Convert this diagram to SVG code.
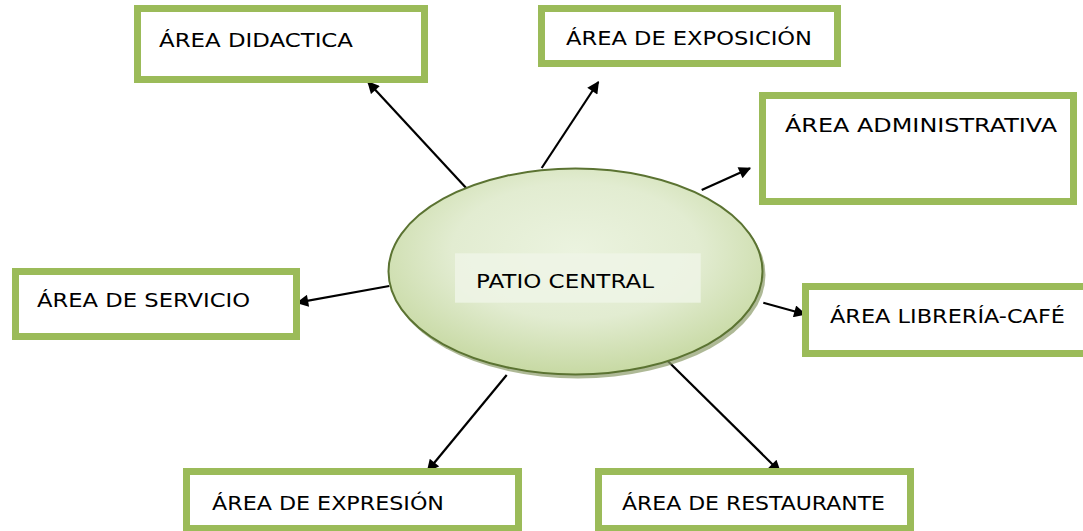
<svg xmlns="http://www.w3.org/2000/svg" width="1083" height="531" viewBox="0 0 1083 531">
<style>
.box{fill:#fff;stroke:#9bbb59;stroke-width:7}
.lbl{font-family:"DejaVu Sans","Liberation Sans",sans-serif;font-size:20px;fill:#000}
.con{stroke:#000;stroke-width:2.2;fill:none;marker-end:url(#ah)}
</style>
<defs>
<marker id="ah" viewBox="0 0 10 10" refX="9" refY="5" markerWidth="6" markerHeight="5.5" orient="auto" markerUnits="strokeWidth">
<path d="M0,0 L10,5 L0,10 z" fill="#000"/>
</marker>
<radialGradient id="eg" cx="0.5" cy="0.4" r="0.6">
<stop offset="0" stop-color="#ebf3df"/>
<stop offset="0.55" stop-color="#e2ecd1"/>
<stop offset="1" stop-color="#c7d9a3"/>
</radialGradient>
</defs>
<rect width="1083" height="531" fill="#fff"/>
<g id="connectors">
<line class="con" x1="468" y1="190" x2="368" y2="82"/>
<line class="con" x1="541.7" y1="168" x2="598.3" y2="82"/>
<line class="con" x1="701.7" y1="190" x2="750" y2="168.3"/>
<line class="con" x1="389.3" y1="286" x2="297.3" y2="302.7"/>
<line class="con" x1="763.3" y1="302.7" x2="805" y2="314.3"/>
<line class="con" x1="661.7" y1="355" x2="780" y2="471.7"/>
<line class="con" x1="506.7" y1="375" x2="427.5" y2="471"/>
</g>
<g id="patio-central">
<ellipse cx="578" cy="275" rx="187.5" ry="103.5" fill="#8c9b6a" opacity="0.7"/>
<ellipse cx="575.5" cy="271.5" rx="187" ry="103" fill="url(#eg)" stroke="#5b7332" stroke-width="2"/>
<rect x="455" y="253.3" width="245.7" height="49.4" fill="#eef4e6" opacity="0.85"/>
<text class="lbl" x="476" y="288.3" textLength="178" lengthAdjust="spacingAndGlyphs">PATIO CENTRAL</text>
</g>
<g id="area-didactica">
<rect class="box" x="137.5" y="8.5" width="287" height="71"/>
<text class="lbl" x="159" y="47" textLength="194" lengthAdjust="spacingAndGlyphs">ÁREA DIDACTICA</text>
</g>
<g id="area-exposicion">
<rect class="box" x="541.5" y="8.5" width="296" height="55"/>
<text class="lbl" x="566" y="45" textLength="246" lengthAdjust="spacingAndGlyphs">ÁREA DE EXPOSICIÓN</text>
</g>
<g id="area-administrativa">
<rect class="box" x="762.5" y="95.5" width="311" height="106"/>
<text class="lbl" x="785" y="132" textLength="272" lengthAdjust="spacingAndGlyphs">ÁREA ADMINISTRATIVA</text>
</g>
<g id="area-servicio">
<rect class="box" x="15.5" y="271.5" width="281" height="65"/>
<text class="lbl" x="37" y="307" textLength="213" lengthAdjust="spacingAndGlyphs">ÁREA DE SERVICIO</text>
</g>
<g id="area-libreria-cafe">
<rect class="box" x="805.5" y="286.5" width="300" height="67"/>
<text class="lbl" x="830" y="323" textLength="235" lengthAdjust="spacingAndGlyphs">ÁREA LIBRERÍA-CAFÉ</text>
</g>
<g id="area-expresion">
<rect class="box" x="186.5" y="471.5" width="332" height="57"/>
<text class="lbl" x="212" y="510" textLength="232" lengthAdjust="spacingAndGlyphs">ÁREA DE EXPRESIÓN</text>
</g>
<g id="area-restaurante">
<rect class="box" x="598.5" y="471.5" width="312" height="57"/>
<text class="lbl" x="622" y="510" textLength="263" lengthAdjust="spacingAndGlyphs">ÁREA DE RESTAURANTE</text>
</g>
</svg>
